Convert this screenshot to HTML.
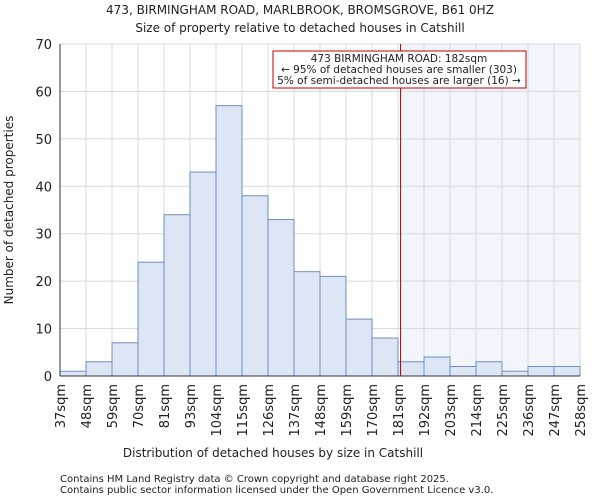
<!DOCTYPE html>
<html><head><meta charset="utf-8"><style>
body{margin:0;background:#fff;font-family:"DejaVu Sans","Liberation Sans",sans-serif}
svg text{font-family:"DejaVu Sans","Liberation Sans",sans-serif;fill:#222}
</style></head><body>
<svg id="c" width="600" height="500" xmlns="http://www.w3.org/2000/svg">
<text x="300" y="14" text-anchor="middle" font-size="12">473, BIRMINGHAM ROAD, MARLBROOK, BROMSGROVE, B61 0HZ</text>
<text x="300" y="32" text-anchor="middle" font-size="12">Size of property relative to detached houses in Catshill</text>
<g id="g"></g>
<text x="273" y="457" text-anchor="middle" font-size="12">Distribution of detached houses by size in Catshill</text>
<text transform="translate(13,210) rotate(-90)" text-anchor="middle" font-size="12">Number of detached properties</text>
<text x="60" y="482" font-size="10">Contains HM Land Registry data © Crown copyright and database right 2025.</text>
<text x="60" y="493" font-size="10">Contains public sector information licensed under the Open Government Licence v3.0.</text>
</svg>
<script>
const labels=["37sqm","48sqm","59sqm","70sqm","81sqm","93sqm","104sqm","115sqm","126sqm","137sqm","148sqm","159sqm","170sqm","181sqm","192sqm","203sqm","214sqm","225sqm","236sqm","247sqm","258sqm"];
const counts=[1,3,7,24,34,43,57,38,33,22,21,12,8,3,4,2,3,1,2,2];
const yTicks=[0,10,20,30,40,50,60,70];
const markerBin=13.1;
const NS="http://www.w3.org/2000/svg";
const L=60,R=580,T=44,B=376,yMax=70;
const bw=(R-L)/counts.length;
const x=i=>L+i*bw, y=v=>B-(v/yMax)*(B-T);
const g=document.getElementById('g');
function mk(t,a,txt){const e=document.createElementNS(NS,t);for(const k in a)e.setAttribute(k,a[k]);if(txt!==undefined)e.textContent=txt;g.appendChild(e);return e;}
const mx=x(markerBin);
let e=mk('rect',{x:mx,y:T,width:R-mx,height:B-T,fill:'#f3f5fd'});


for(let i=0;i<=counts.length;i++){e=mk('line',{x1:x(i),x2:x(i),y1:T,y2:B,stroke:'#d8d8d8'});

}
yTicks.forEach(v=>{e=mk('line',{x1:L,x2:R,y1:y(v),y2:y(v),stroke:'#d8d8d8'});


e=mk('text',{x:L-8,y:y(v)+5,'text-anchor':'end','font-size':13},v);

});
counts.forEach((c,i)=>{e=mk('rect',{x:x(i),y:y(c),width:bw,height:B-y(c),fill:'#dce6f5',stroke:'#6f8fc0','stroke-width':1});

});
labels.forEach((l,i)=>{e=mk('text',{transform:`translate(${x(i)+5},${B+8}) rotate(-90)`,'text-anchor':'end','font-size':13},l);

});
e=mk('line',{x1:L,x2:L,y1:T,y2:B,stroke:'#333'});


e=mk('line',{x1:L,x2:R,y1:B,y2:B,stroke:'#333'});


e=mk('line',{x1:mx,x2:mx,y1:T,y2:B,stroke:'#a00000','stroke-width':1});


e=mk('rect',{x:273,y:51,width:253,height:37,fill:'#fff',stroke:'#c00000'});


[["473 BIRMINGHAM ROAD: 182sqm",62],["← 95% of detached houses are smaller (303)",73],["5% of semi-detached houses are larger (16) →",84]].forEach(([t,yy])=>{
e=mk('text',{x:399,y:yy,'text-anchor':'middle','font-size':10.5},t);

});
</script>
</body></html>
